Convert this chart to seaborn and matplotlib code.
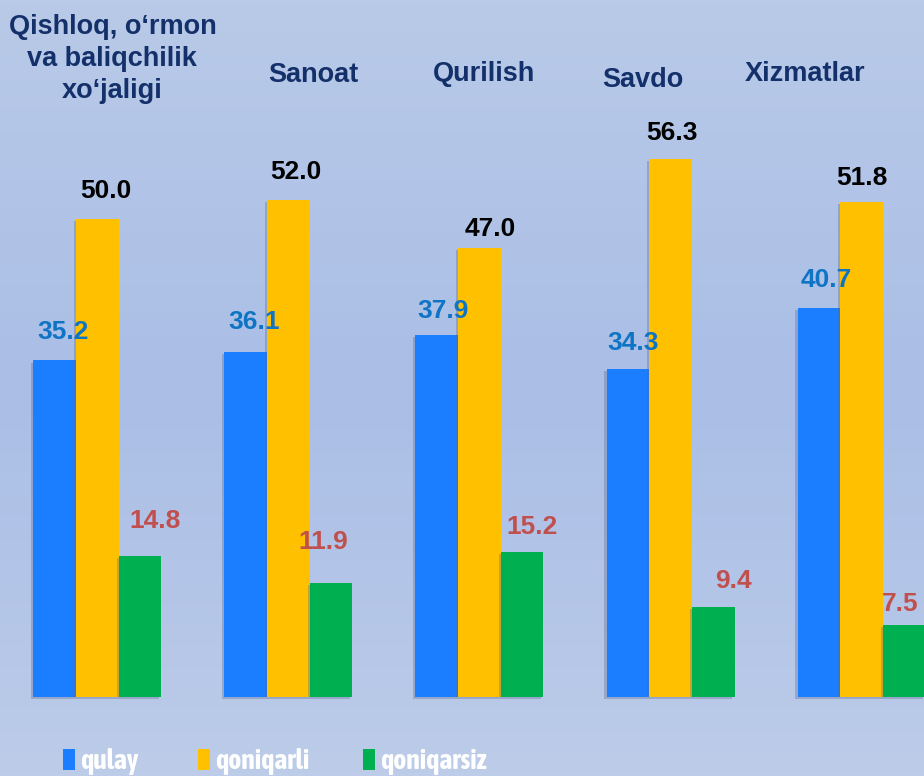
import numpy as np
import pandas as pd
import matplotlib
matplotlib.use("Agg")
import matplotlib.pyplot as plt
import seaborn as sns
from matplotlib import font_manager
from matplotlib.patches import Rectangle
import matplotlib.patheffects as pe

# ---- data -------------------------------------------------------------
sectors = [
    "Qishloq, o\u2018rmon\nva baliqchilik\nxo\u2018jaligi",
    "Sanoat",
    "Qurilish",
    "Savdo",
    "Xizmatlar",
]
series_names = ["qulay", "qoniqarli", "qoniqarsiz"]
qulay = [35.2, 36.1, 37.9, 34.3, 40.7]
qoniqarli = [50.0, 52.0, 47.0, 56.3, 51.8]
qoniqarsiz = [14.8, 11.9, 15.2, 9.4, 7.5]

bar_colors = ["#1B7DFF", "#FFC000", "#00B050"]
label_colors = ["#0F74C4", "#000000", "#C0504D"]
title_color = "#14306A"

df = pd.DataFrame({
    "sector": np.repeat(sectors, 3),
    "series": series_names * len(sectors),
    "value": np.ravel(np.column_stack([qulay, qoniqarli, qoniqarsiz])),
})

# ---- fonts --------------------------------------------------------------
MAIN_FONT = ["Liberation Sans", "DejaVu Sans"]


def narrow_font():
    """Pick a condensed sans face for the legend if one is installed."""
    fonts = font_manager.fontManager.ttflist
    for f in fonts:
        if ("Narrow" in f.name or "Condensed" in f.name) and f.weight in ("bold", 700):
            return {"family": f.name, "stretch": "normal"}
    for f in fonts:
        st = f.stretch
        if (st == "condensed" or (isinstance(st, int) and st < 500)) and \
                f.name in ("DejaVu Sans", "Liberation Sans", "Roboto", "Open Sans", "Noto Sans"):
            return {"family": f.name, "stretch": "condensed"}
    return {"family": "Liberation Sans", "stretch": "normal"}


LEG_FONT = narrow_font()

# ---- figure -----------------------------------------------------------
W, H, DPI = 924, 776, 100
px = 72 / DPI  # one pixel in points
fig = plt.figure(figsize=(W / DPI, H / DPI), dpi=DPI)

# soft vertical gradient background
bg = fig.add_axes([0, 0, 1, 1], zorder=0)
stops_y = [0.0, 0.5, 1.0]
stops_c = [np.array([0xB9, 0xCA, 0xE8]), np.array([0xAA, 0xBE, 0xE6]),
           np.array([0xBC, 0xCC, 0xE9])]
yy = np.linspace(0, 1, 256)
grad = np.stack([np.interp(yy, stops_y, [c[i] for c in stops_c]) for i in range(3)], axis=1) / 255
bg.imshow(grad[:, None, :], aspect="auto", extent=[0, 1, 1, 0])
bg.set_axis_off()

ax = fig.add_axes([0, 0, 1, 1], zorder=1)
ax.patch.set_alpha(0)

sns.barplot(data=df, x="sector", y="value", hue="series", order=sectors,
            hue_order=series_names, palette=bar_colors, width=0.67, gap=0,
            saturation=1, errorbar=None, legend=False, ax=ax)

shadow = [pe.SimplePatchShadow(offset=(-1.5, -1.5), shadow_rgbFace="#5a6a90", alpha=0.35),
          pe.Normal()]
for cont in ax.containers:
    for bar in cont:
        bar.set_linewidth(0)
        bar.set_path_effects(shadow)

ax.set_xlim(-0.51, 4.327)
ax.set_ylim(-8.26, 72.9)
ax.set_axis_off()

# value labels above each bar; nudges (dx, dy) in pixels
label_nudges = [
    [(8, 28), (8, 30), (6, 24), (5, 26), (7, 28)],
    [(8, 28), (7, 28), (11, 19), (1, 26), (0, 24)],
    [(15, 35), (-8, 41), (10, 25), (20, 26), (-4, 21)],
]
for cont, col, nudges in zip(ax.containers, label_colors, label_nudges):
    for bar, (dx, dy) in zip(cont, nudges):
        xc = bar.get_x() + bar.get_width() / 2
        val = bar.get_height()
        ax.annotate(f"{val:.1f}", xy=(xc, val), xytext=(dx * px, dy * px),
                    textcoords="offset points", ha="center", va="center",
                    fontsize=19, fontweight="bold", color=col,
                    family=MAIN_FONT, zorder=5)

# sector titles at the top (horizontal nudge and cap-top of first line, pixels)
title_dx = [15, 25, 5, -28, -56]
title_top = [16, 63, 62, 68, 62]
TITLE_SIZE = 19.5
LINE_PITCH = 31.5
for i, (name, dx, top) in enumerate(zip(sectors, title_dx, title_top)):
    n_lines = name.count("\n")
    cap = TITLE_SIZE / px * 0.716
    base_y = top + cap + n_lines * LINE_PITCH
    ax.annotate(name, xy=(i, 1 - base_y / H), xycoords=("data", "axes fraction"),
                xytext=(dx * px, 0), textcoords="offset points",
                ha="center", va="baseline", fontsize=TITLE_SIZE, fontweight="bold",
                color=title_color, linespacing=1.3, family=MAIN_FONT,
                annotation_clip=False)

# legend along the bottom edge
leg_sq_x = [63, 198, 363]
leg_txt_x = [80, 215, 380]
leg_size = 20 if LEG_FONT["stretch"] == "condensed" or "Narrow" in LEG_FONT["family"] \
    or "Condensed" in LEG_FONT["family"] else 17
for name, color, sx, tx in zip(series_names, bar_colors, leg_sq_x, leg_txt_x):
    fig.add_artist(Rectangle((sx / W, 1 - 770 / H), 12 / W, 21 / H,
                             transform=fig.transFigure, facecolor=color,
                             edgecolor="none", zorder=3))
    fig.text(tx / W, 1 - 769 / H, name, ha="left", va="baseline", color="white",
             fontsize=leg_size, fontweight="bold", family=LEG_FONT["family"],
             fontstretch=LEG_FONT["stretch"], zorder=3)

fig.savefig("out.png", dpi=DPI)
